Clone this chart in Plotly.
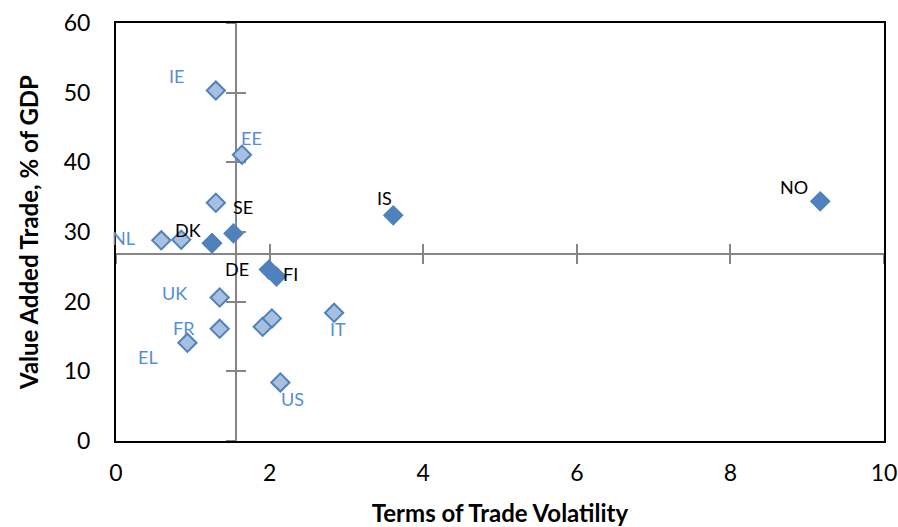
import plotly.graph_objects as go

# light markers (blue labels), "" = no label
light_names = ["IE", "EE", "", "NL", "", "", "UK", "FR", "EL", "", "", "IT", "US"]
light_x = [1.30, 1.64, 1.30, 0.59, 0.85, 1.25, 1.35, 1.35, 0.93, 1.91, 2.03, 2.84, 2.14]
light_y = [50.3, 41.1, 34.2, 28.8, 28.9, 28.4, 20.6, 16.1, 14.1, 16.4, 17.6, 18.4, 8.4]

# dark markers (black labels)
dark_names = ["DK", "SE", "DE", "FI", "IS", "NO"]
dark_x = [1.25, 1.53, 1.99, 2.09, 3.61, 9.17]
dark_y = [28.4, 29.8, 24.6, 23.6, 32.4, 34.4]

# where the cross lines sit (averages)
mean_x = 1.565
mean_y = 26.9

x_range = [0, 10]
y_range = [0, 60]

# label offsets in pixels (dx, dy)
label_shift = {
    "IE": (-39, 15), "EE": (10, 17), "NL": (-38, 2), "UK": (-45, 4),
    "FR": (-36, 1), "EL": (-39, -14), "IT": (4, -16), "US": (12, -17),
    "DK": (-24, 13), "SE": (9, 26), "DE": (-32, 1), "FI": (14, 3),
    "IS": (-9, 17), "NO": (-26, 14),
}

FONT = "Lato, 'Open Sans', sans-serif"
LIGHT_FILL = "rgb(168,192,224)"
DARK_FILL = "rgb(79,129,189)"
BLUE_TEXT = "rgb(85,142,213)"
GREY = "rgb(134,134,134)"

fig = go.Figure()

fig.add_trace(go.Scatter(
    x=light_x, y=light_y, mode="markers", name="light",
    marker=dict(symbol="diamond", size=14, color=LIGHT_FILL,
                line=dict(color=DARK_FILL, width=2)),
    hovertext=light_names, showlegend=False,
))
fig.add_trace(go.Scatter(
    x=dark_x, y=dark_y, mode="markers", name="dark",
    marker=dict(symbol="diamond", size=16, color=DARK_FILL,
                line=dict(color=DARK_FILL, width=0)),
    hovertext=dark_names, showlegend=False,
))

# data labels
for names, xs, ys, col in [(light_names, light_x, light_y, BLUE_TEXT),
                           (dark_names, dark_x, dark_y, "black")]:
    for n, x, y in zip(names, xs, ys):
        if not n:
            continue
        dx, dy = label_shift[n]
        fig.add_annotation(x=x, y=y, text=n, showarrow=False,
                           xshift=dx, yshift=dy,
                           font=dict(family=FONT, size=18, color=col))

# cross lines with their own ticks (free axes), both sides
py = (mean_y - y_range[0]) / (y_range[1] - y_range[0])
px = (mean_x - x_range[0]) / (x_range[1] - x_range[0])
cross_x = dict(overlaying="x", anchor="free", position=py, range=x_range,
               showline=True, linecolor=GREY, linewidth=2, showgrid=False,
               zeroline=False, showticklabels=False, tickmode="linear",
               tick0=0, dtick=2, ticklen=9, tickcolor=GREY, tickwidth=2,
               layer="below traces", automargin=False)
cross_y = dict(overlaying="y", anchor="free", position=px, range=y_range,
               showline=True, linecolor=GREY, linewidth=2, showgrid=False,
               zeroline=False, showticklabels=False, tickmode="linear",
               tick0=0, dtick=10, ticklen=9, tickcolor=GREY, tickwidth=2,
               layer="below traces", automargin=False)

fig.update_layout(
    width=898, height=527,
    margin=dict(l=116, r=14, t=23, b=86),
    plot_bgcolor="white", paper_bgcolor="white",
    font=dict(family=FONT, size=24, color="black"),
    xaxis=dict(range=x_range, dtick=2, showgrid=False, zeroline=False,
               showline=True, linecolor="black", linewidth=2, mirror=True,
               ticks="", tickfont=dict(size=23), ticklabelstandoff=10,
               ticklabeloverflow="allow", automargin=False,
               title=dict(text="<b>Terms of Trade Volatility</b>",
                          font=dict(size=24), standoff=21)),
    yaxis=dict(range=y_range, dtick=10, showgrid=False, zeroline=False,
               showline=True, linecolor="black", linewidth=2, mirror=True,
               ticks="", tickfont=dict(size=23), ticklabelstandoff=19,
               automargin=False,
               title=dict(text="<b>Value Added Trade, % of GDP</b>",
                          font=dict(size=24), standoff=18)),
    xaxis2=dict(cross_x, ticks="outside", side="bottom"),
    xaxis3=dict(cross_x, ticks="inside", side="bottom"),
    yaxis2=dict(cross_y, ticks="outside", side="left"),
    yaxis3=dict(cross_y, ticks="inside", side="left"),
)

# dummy traces so the cross axes get drawn
fig.add_trace(go.Scatter(x=[None], y=[None], xaxis="x2", yaxis="y2",
                         showlegend=False, hoverinfo="skip"))
fig.add_trace(go.Scatter(x=[None], y=[None], xaxis="x3", yaxis="y3",
                         showlegend=False, hoverinfo="skip"))

# drop the default 8px body margin so the figure fills the window
fig.write_html("out.html", config={"displayModeBar": False},
               post_script="document.body.style.margin='0';")
